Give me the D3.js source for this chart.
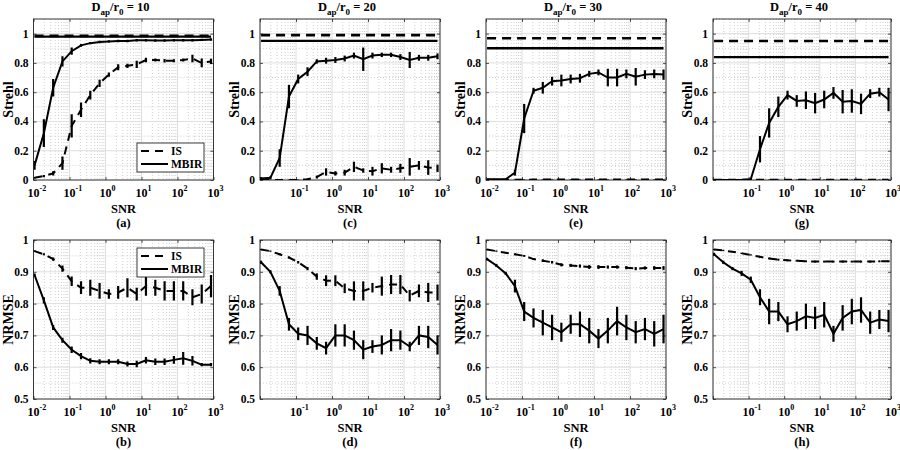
<!DOCTYPE html>
<html><head><meta charset="utf-8">
<script src="https://cdn.jsdelivr.net/npm/d3@7"></script>
<style>
body{margin:0;background:#fff;}
svg text{font-family:"Liberation Serif","Times New Roman","DejaVu Serif",serif !important;font-weight:bold;fill:#000;}
</style></head>
<body><svg id="c" width="900" height="450" font-family="Liberation Serif, serif"></svg>
<script>
// ---------------- DATA ----------------
const snr = [0.0107, 0.0194, 0.0352, 0.0637, 0.115, 0.209, 0.378, 0.685, 1.24, 2.25, 4.07, 7.37, 13.3, 24.2, 43.8, 79.3, 144, 260, 471, 853];
const ratios = [10, 20, 30, 40];
const letters = ["a","c","e","g","b","d","f","h"];
const seriesNames = ["IS", "MBIR"];

// Strehl (top row)
const strehlIS_a = [0.016, 0.027, 0.045, 0.115, 0.37, 0.48, 0.58, 0.66, 0.72, 0.77, 0.78, 0.79, 0.82, 0.82, 0.815, 0.815, 0.82, 0.83, 0.80, 0.81];
const strehlISerr_a = [0.005, 0.008, 0.015, 0.045, 0.08, 0.05, 0.03, 0.025, 0.015, 0.02, 0.015, 0.025, 0.015, 0.01, 0.012, 0.01, 0.01, 0.025, 0.03, 0.018];
const strehlMBIR_a = [0.10, 0.32, 0.63, 0.81, 0.88, 0.92, 0.935, 0.943, 0.947, 0.95, 0.95, 0.955, 0.955, 0.953, 0.953, 0.955, 0.955, 0.955, 0.957, 0.96];
const strehlMBIRerr_a = [0.03, 0.095, 0.06, 0.035, 0.025, 0.01, 0.008, 0.008, 0.008, 0.008, 0.008, 0.008, 0.008, 0.008, 0.008, 0.008, 0.008, 0.008, 0.008, 0.008];

const strehlIS_c = [0.0, 0.0, 0.0, 0.0, 0.0, 0.005, 0.02, 0.055, 0.045, 0.05, 0.09, 0.065, 0.06, 0.08, 0.07, 0.08, 0.09, 0.10, 0.085, 0.08];
const strehlISerr_c = [0.002, 0.002, 0.002, 0.002, 0.003, 0.005, 0.01, 0.025, 0.015, 0.02, 0.035, 0.015, 0.03, 0.035, 0.02, 0.03, 0.06, 0.03, 0.05, 0.025];
const strehlMBIR_c = [0.01, 0.015, 0.15, 0.57, 0.69, 0.74, 0.81, 0.815, 0.82, 0.83, 0.85, 0.825, 0.85, 0.855, 0.855, 0.84, 0.82, 0.835, 0.835, 0.845];
const strehlMBIRerr_c = [0.01, 0.01, 0.06, 0.08, 0.03, 0.03, 0.015, 0.02, 0.02, 0.02, 0.02, 0.08, 0.02, 0.015, 0.015, 0.02, 0.055, 0.02, 0.02, 0.02];

const strehlIS_e = [0.002, 0.002, 0.002, 0.002, 0.002, 0.003, 0.003, 0.003, 0.003, 0.003, 0.003, 0.003, 0.003, 0.003, 0.003, 0.003, 0.003, 0.003, 0.003, 0.003];
const strehlISerr_e = [0.002, 0.002, 0.002, 0.002, 0.002, 0.002, 0.002, 0.002, 0.002, 0.002, 0.002, 0.002, 0.002, 0.002, 0.002, 0.002, 0.002, 0.002, 0.002, 0.002];
const strehlMBIR_e = [0.005, 0.005, 0.005, 0.05, 0.42, 0.61, 0.63, 0.675, 0.68, 0.69, 0.695, 0.725, 0.735, 0.70, 0.70, 0.725, 0.705, 0.72, 0.725, 0.72];
const strehlMBIRerr_e = [0.003, 0.003, 0.005, 0.02, 0.1, 0.02, 0.04, 0.03, 0.04, 0.03, 0.03, 0.02, 0.02, 0.06, 0.06, 0.03, 0.06, 0.03, 0.03, 0.035];

const strehlIS_g = [0.001, 0.001, 0.001, 0.001, 0.001, 0.001, 0.001, 0.001, 0.001, 0.001, 0.001, 0.001, 0.001, 0.001, 0.001, 0.001, 0.001, 0.001, 0.001, 0.001];
const strehlISerr_g = [0.002, 0.002, 0.002, 0.002, 0.002, 0.002, 0.002, 0.002, 0.002, 0.002, 0.002, 0.002, 0.002, 0.002, 0.002, 0.002, 0.002, 0.002, 0.002, 0.002];
const strehlMBIR_g = [0.0, 0.0, 0.0, 0.0, 0.005, 0.21, 0.39, 0.50, 0.58, 0.54, 0.545, 0.525, 0.55, 0.595, 0.535, 0.54, 0.52, 0.59, 0.60, 0.55];
const strehlMBIRerr_g = [0.002, 0.002, 0.002, 0.002, 0.005, 0.09, 0.1, 0.07, 0.03, 0.04, 0.06, 0.07, 0.06, 0.04, 0.08, 0.08, 0.07, 0.03, 0.03, 0.08];

// reference (horizontal) Strehl levels per column
const refStrehlIS = [0.985, 0.99, 0.968, 0.95];
const refStrehlMBIR = [0.98, 0.95, 0.90, 0.84];

// NRMSE (bottom row)
const nrmseIS_b = [0.965, 0.955, 0.94, 0.91, 0.87, 0.85, 0.85, 0.84, 0.83, 0.835, 0.85, 0.83, 0.855, 0.85, 0.84, 0.84, 0.84, 0.82, 0.83, 0.855];
const nrmseISerr_b = [0.003, 0.003, 0.005, 0.01, 0.015, 0.02, 0.025, 0.025, 0.015, 0.02, 0.03, 0.02, 0.03, 0.025, 0.03, 0.03, 0.03, 0.025, 0.03, 0.035];
const nrmseMBIR_b = [0.89, 0.81, 0.725, 0.685, 0.655, 0.635, 0.62, 0.617, 0.617, 0.617, 0.61, 0.61, 0.622, 0.617, 0.617, 0.623, 0.628, 0.62, 0.608, 0.608];
const nrmseMBIRerr_b = [0.005, 0.01, 0.008, 0.008, 0.01, 0.01, 0.008, 0.008, 0.008, 0.008, 0.008, 0.01, 0.01, 0.01, 0.01, 0.012, 0.02, 0.015, 0.005, 0.005];

const nrmseIS_d = [0.97, 0.965, 0.955, 0.945, 0.93, 0.91, 0.885, 0.872, 0.872, 0.848, 0.84, 0.84, 0.85, 0.855, 0.86, 0.86, 0.825, 0.84, 0.835, 0.835];
const nrmseISerr_d = [0.002, 0.002, 0.003, 0.003, 0.004, 0.005, 0.01, 0.017, 0.017, 0.015, 0.03, 0.03, 0.015, 0.03, 0.03, 0.03, 0.018, 0.02, 0.03, 0.025];
const nrmseMBIR_d = [0.93, 0.90, 0.84, 0.735, 0.705, 0.70, 0.675, 0.66, 0.70, 0.70, 0.685, 0.655, 0.665, 0.67, 0.685, 0.685, 0.665, 0.70, 0.695, 0.67];
const nrmseMBIRerr_d = [0.005, 0.005, 0.015, 0.02, 0.02, 0.03, 0.02, 0.02, 0.035, 0.035, 0.03, 0.03, 0.02, 0.03, 0.035, 0.03, 0.015, 0.03, 0.035, 0.03];

const nrmseIS_f = [0.97, 0.965, 0.96, 0.955, 0.95, 0.94, 0.935, 0.93, 0.922, 0.92, 0.918, 0.915, 0.915, 0.915, 0.915, 0.913, 0.91, 0.912, 0.912, 0.912];
const nrmseISerr_f = [0.002, 0.002, 0.002, 0.003, 0.003, 0.003, 0.004, 0.004, 0.005, 0.005, 0.005, 0.006, 0.006, 0.005, 0.005, 0.005, 0.005, 0.005, 0.006, 0.006];
const nrmseMBIR_f = [0.94, 0.92, 0.895, 0.855, 0.775, 0.755, 0.74, 0.725, 0.71, 0.735, 0.735, 0.715, 0.69, 0.715, 0.745, 0.725, 0.71, 0.72, 0.705, 0.72];
const nrmseMBIRerr_f = [0.004, 0.005, 0.005, 0.02, 0.03, 0.03, 0.04, 0.04, 0.03, 0.03, 0.04, 0.04, 0.03, 0.04, 0.045, 0.04, 0.035, 0.035, 0.04, 0.045];

const nrmseIS_h = [0.97, 0.967, 0.963, 0.958, 0.953, 0.947, 0.942, 0.938, 0.936, 0.935, 0.933, 0.932, 0.932, 0.932, 0.932, 0.932, 0.932, 0.932, 0.933, 0.933];
const nrmseISerr_h = [0.002, 0.002, 0.002, 0.002, 0.002, 0.003, 0.003, 0.003, 0.003, 0.003, 0.003, 0.003, 0.003, 0.003, 0.003, 0.003, 0.003, 0.003, 0.003, 0.003];
const nrmseMBIR_h = [0.955, 0.93, 0.91, 0.895, 0.875, 0.82, 0.775, 0.775, 0.735, 0.745, 0.76, 0.755, 0.765, 0.705, 0.755, 0.775, 0.78, 0.74, 0.75, 0.745];
const nrmseMBIRerr_h = [0.005, 0.005, 0.005, 0.008, 0.01, 0.025, 0.04, 0.03, 0.025, 0.03, 0.04, 0.035, 0.04, 0.025, 0.04, 0.04, 0.04, 0.035, 0.03, 0.035];

const strehlTicks = [0, 0.2, 0.4, 0.6, 0.8, 1];
const nrmseTicks = [0.5, 0.6, 0.7, 0.8, 0.9, 1];
const xTicksFull = [1e-2, 1e-1, 1e0, 1e1, 1e2, 1e3];
const xTicksShort = [1e-1, 1e0, 1e1, 1e2, 1e3];

// ---------------- BUILD ----------------
const FONT = "Liberation Serif, Times New Roman, DejaVu Serif, serif";
const topSet = [
  [strehlIS_a, strehlISerr_a, strehlMBIR_a, strehlMBIRerr_a],
  [strehlIS_c, strehlISerr_c, strehlMBIR_c, strehlMBIRerr_c],
  [strehlIS_e, strehlISerr_e, strehlMBIR_e, strehlMBIRerr_e],
  [strehlIS_g, strehlISerr_g, strehlMBIR_g, strehlMBIRerr_g]];
const botSet = [
  [nrmseIS_b, nrmseISerr_b, nrmseMBIR_b, nrmseMBIRerr_b],
  [nrmseIS_d, nrmseISerr_d, nrmseMBIR_d, nrmseMBIRerr_d],
  [nrmseIS_f, nrmseISerr_f, nrmseMBIR_f, nrmseMBIRerr_f],
  [nrmseIS_h, nrmseISerr_h, nrmseMBIR_h, nrmseMBIRerr_h]];

const svg = d3.select("#c");
const colL = [33.5, 260, 486, 713];
const colR = [213.5, 440, 666, 891];
const rows = [{top: 19, bot: 180}, {top: 240, bot: 399}];

function txt(sel) {
  return sel.append("text").attr("font-family", FONT).attr("font-weight", "bold").attr("fill", "#000");
}

function drawPanel(col, row) {
  const left = colL[col], right = colR[col], W = right - left;
  const top = rows[row].top, bot = rows[row].bot;
  const isTop = row === 0;
  const x = d3.scaleLog().domain([1e-2, 1e3]).range([left, right]);
  const y = isTop ? d3.scaleLinear().domain([0, 1.1]).range([bot, top])
                  : d3.scaleLinear().domain([0.5, 1]).range([bot, top]);
  const yTicks = isTop ? strehlTicks : nrmseTicks;
  const xTicks = (col === 0 || col === 2) ? xTicksFull : xTicksShort;
  const g = svg.append("g");
  const clipId = "clip" + col + row;
  g.append("clipPath").attr("id", clipId).append("rect")
    .attr("x", left).attr("y", top).attr("width", W).attr("height", bot - top);

  // minor grid x
  const minorX = [];
  for (let e = -2; e < 3; e++) for (let m = 2; m <= 9; m++) minorX.push(m * Math.pow(10, e));
  g.selectAll(".mgx").data(minorX).enter().append("line")
    .attr("x1", d => x(d)).attr("x2", d => x(d)).attr("y1", top).attr("y2", bot)
    .attr("stroke", "#c4c4c4").attr("stroke-width", 0.8).attr("stroke-dasharray", "1,2");
  // minor grid y
  const yDom = y.domain();
  const minorStep = isTop ? 0.1 : 0.05;
  const minorY = d3.range(yDom[0] + minorStep, yDom[1] + 1e-9, minorStep)
    .filter(v => !yTicks.some(t => Math.abs(t - v) < 1e-6));
  g.selectAll(".mgy").data(minorY).enter().append("line")
    .attr("x1", left).attr("x2", right).attr("y1", d => y(d)).attr("y2", d => y(d))
    .attr("stroke", "#c4c4c4").attr("stroke-width", 0.8).attr("stroke-dasharray", "1,2");
  // major grid
  g.selectAll(".gx").data(xTicksFull).enter().append("line")
    .attr("x1", d => x(d)).attr("x2", d => x(d)).attr("y1", top).attr("y2", bot)
    .attr("stroke", "#dedede").attr("stroke-width", 1);
  g.selectAll(".gy").data(yTicks).enter().append("line")
    .attr("x1", left).attr("x2", right).attr("y1", d => y(d)).attr("y2", d => y(d))
    .attr("stroke", "#dedede").attr("stroke-width", 1);

  // axes using d3 axis (inner ticks)
  const xAx = d3.axisBottom(x).tickValues(xTicksFull).tickSize(-3).tickFormat("");
  const xAxT = d3.axisTop(x).tickValues(xTicksFull).tickSize(-3).tickFormat("");
  const yAx = d3.axisLeft(y).tickValues(yTicks).tickSize(-3).tickFormat("");
  const yAxR = d3.axisRight(y).tickValues(yTicks).tickSize(-3).tickFormat("");
  [[xAx, `translate(0,${bot})`], [xAxT, `translate(0,${top})`], [yAx, `translate(${left},0)`], [yAxR, `translate(${right},0)`]]
    .forEach(([ax, tr]) => {
      const a = g.append("g").attr("transform", tr).call(ax);
      a.select(".domain").remove();
      a.selectAll("line").attr("stroke", "#262626").attr("stroke-width", 0.8);
    });
  g.append("rect").attr("x", left).attr("y", top).attr("width", W).attr("height", bot - top)
    .attr("fill", "none").attr("stroke", "#262626").attr("stroke-width", 0.9);

  // tick labels
  const tg = g.append("g");
  yTicks.forEach(d => {
    txt(tg).attr("x", left - 5).attr("y", y(d) + 4).attr("text-anchor", "end")
      .attr("font-size", 11.5).text(String(d));
  });
  xTicks.forEach(d => {
    txt(tg).attr("x", x(d)).attr("y", bot + 17).attr("text-anchor", "middle").attr("font-size", 12).text("10");
    txt(tg).attr("x", x(d) + 6).attr("y", bot + 11).attr("text-anchor", "start").attr("font-size", 8)
      .text(String(Math.round(Math.log10(d))));
  });

  // labels
  txt(g).attr("x", (left + right) / 2).attr("y", bot + 33).attr("text-anchor", "middle")
    .attr("font-size", 12.5).text("SNR");
  txt(g).attr("x", (left + right) / 2).attr("y", bot + 47).attr("text-anchor", "middle")
    .attr("font-size", 12.5).text("(" + letters[row * 4 + col] + ")");
  txt(g).attr("transform", `translate(${left - 21},${(top + bot) / 2}) rotate(-90)`)
    .attr("text-anchor", "middle").attr("font-size", 14).text(isTop ? "Strehl" : "NRMSE");
  if (isTop) {
    const t = txt(g).attr("x", (left + right) / 2 - 3).attr("y", 11).attr("text-anchor", "middle").attr("font-size", 12.5);
    t.append("tspan").text("D");
    t.append("tspan").attr("dy", 4).attr("font-size", 9).text("ap");
    t.append("tspan").attr("dy", -4).text("/r");
    t.append("tspan").attr("dy", 4).attr("font-size", 9).text("0");
    t.append("tspan").attr("dy", -4).text(" = " + ratios[col]);
  }

  const set = isTop ? topSet[col] : botSet[col];
  const plot = g.append("g").attr("clip-path", `url(#${clipId})`);
  const line = d3.line().x((d, i) => x(snr[i])).y(d => y(d));

  if (isTop) {
    plot.append("line").attr("x1", x(snr[0])).attr("x2", x(snr[snr.length - 1]))
      .attr("y1", y(refStrehlIS[col])).attr("y2", y(refStrehlIS[col]))
      .attr("stroke", "#000").attr("stroke-width", 2.6).attr("stroke-dasharray", "9,6");
    plot.append("line").attr("x1", x(snr[0])).attr("x2", x(snr[snr.length - 1]))
      .attr("y1", y(refStrehlMBIR[col])).attr("y2", y(refStrehlMBIR[col]))
      .attr("stroke", "#000").attr("stroke-width", 2.3);
  }
  const drawSeries = (vals, errs, dash) => {
    plot.append("path").datum(vals).attr("d", line).attr("fill", "none")
      .attr("stroke", "#000").attr("stroke-width", 2).attr("stroke-dasharray", dash);
    plot.selectAll(null).data(vals).enter().append("line")
      .attr("x1", (d, i) => x(snr[i])).attr("x2", (d, i) => x(snr[i]))
      .attr("y1", (d, i) => y(d - errs[i])).attr("y2", (d, i) => y(d + errs[i]))
      .attr("stroke", "#000").attr("stroke-width", 2.2);
  };
  drawSeries(set[0], set[1], "8,6");
  drawSeries(set[2], set[3], null);

  // legend
  if (col === 0) {
    const lx = 137, ly = isTop ? 143 : 248, lw = 67, lh = 29;
    const lg = g.append("g");
    lg.append("rect").attr("x", lx).attr("y", ly).attr("width", lw).attr("height", lh)
      .attr("fill", "#fff").attr("stroke", "#262626").attr("stroke-width", 0.9);
    seriesNames.forEach((nm, k) => {
      const yy = ly + 8 + k * 13;
      lg.append("line").attr("x1", lx + 4).attr("x2", lx + 31).attr("y1", yy).attr("y2", yy)
        .attr("stroke", "#000").attr("stroke-width", 2).attr("stroke-dasharray", k === 0 ? "8,6" : null);
      txt(lg).attr("x", lx + 34).attr("y", yy + 4).attr("font-size", 11.5).text(nm);
    });
  }
}

for (let r = 0; r < 2; r++) for (let c = 0; c < 4; c++) drawPanel(c, r);
</script></body></html>
